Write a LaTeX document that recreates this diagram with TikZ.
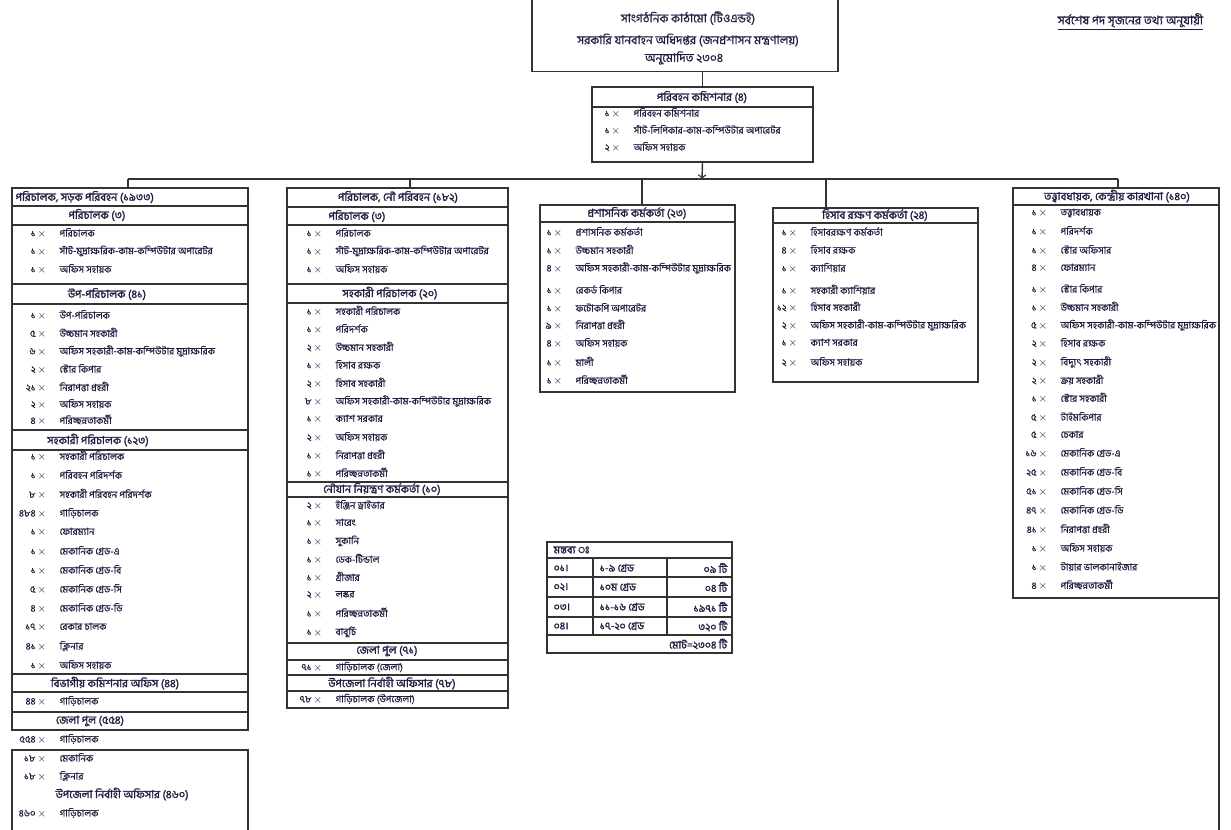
\documentclass[tikz,border=0pt]{standalone}
\usepackage{fontspec}
\newfontfamily\bn[Script=Bengali]{Hind Siliguri}
\newfontfamily\bnm[Script=Bengali, FakeBold=0.6]{Hind Siliguri}
\newfontfamily\bnb[Script=Bengali, FakeBold=1.6]{Hind Siliguri}
\definecolor{ink}{RGB}{30,30,65}
\newcommand{\sm}{\bnm\fontsize{5.5}{6.5}\selectfont}
\newcommand{\hdf}{\bnb\fontsize{6.3}{7.3}\selectfont}
\newcommand{\topf}{\bnm\fontsize{6.8}{7.8}\selectfont}
\newcommand{\cnt}[1]{\makebox[0.64cm][r]{#1\,$\times$}\hspace{0.26cm}}
\tikzset{
  hd/.style={font=\hdf, text=ink, inner sep=0pt},
  itm/.style={font=\sm, text=ink, anchor=west, inner sep=0pt},
  tbl/.style={font=\bnb\fontsize{6}{7}\selectfont, text=ink, inner sep=0pt},
}

\begin{document}
\begin{tikzpicture}[x=0.02cm, y=-0.02cm, line width=0.8pt, color=black!80]
\useasboundingbox (0,0) rectangle (1231,829);
\fill[white] (0,0) rectangle (1231,829);

% top box
\node[draw, minimum width=6.12cm, minimum height=1.54cm, inner sep=0pt] (org) at (685,33) {};
\node[hd, font=\topf] (org1) at (688,18) {সাংগঠনিক কাঠামো (টিওএন্ডই)};
\node[hd, font=\topf] (org2) at (688,40) {সরকারি যানবাহন অধিদপ্তর (জনপ্রশাসন মন্ত্রণালয়)};
\node[hd, font=\topf] (org3) at (684,58) {অনুমোদিত ২৩০৪};
\node[itm, font=\topf] (note) at (1057,22) {\underline{সর্বশেষ পদ সৃজনের তথ্য অনুযায়ী}};

% commissioner
\node[draw, minimum width=4.42cm, minimum height=1.5cm, inner sep=0pt] (comm) at (702.5,124.5) {};
\draw (592,107) -- (813,107);
\node[hd] (khd) at (702,97) {পরিবহন কমিশনার (৪)};
\node[itm] (k1) at (588,113) {\cnt{১}পরিবহন কমিশনার};
\node[itm] (k2) at (588,130) {\cnt{১}সাঁট-লিপিকার-কাম-কম্পিউটার অপারেটর};
\node[itm] (k3) at (588,147) {\cnt{২}অফিস সহায়ক};

\draw (org.south -| comm.north) -- (comm.north);
\coordinate (bus) at (702,179);
\draw[->] (comm.south) -- (bus);
\coordinate (busL) at (128,179);
\coordinate (busR) at (1118,179);
\draw (busL) -- (busR);
\coordinate (topA) at (128,188);
\coordinate (topB) at (410,188);
\coordinate (topC) at (642,205);
\coordinate (topD) at (826,208);
\coordinate (topE) at (1118,188);
\draw (topA |- bus) -- (topA);
\draw (topB |- bus) -- (topB);
\draw (topC |- bus) -- (topC);
\draw (topD |- bus) -- (topD);
\draw (topE |- bus) -- (topE);

% column A
\draw (12,188) rectangle (248,730);
\draw (12,206) -- (248,206);
\draw (12,225) -- (248,225);
\draw (12,284) -- (248,284);
\draw (12,304) -- (248,304);
\draw (12,430) -- (248,430);
\draw (12,450) -- (248,450);
\draw (12,674) -- (248,674);
\draw (12,692) -- (248,692);
\draw (12,712) -- (248,712);
\draw (12,835) -- (12,750) -- (248,750) -- (248,835);
\node[hd, anchor=west] (a0) at (15,197) {পরিচালক, সড়ক পরিবহন (১৯৩৩)};
\node[hd] (a1) at (97,215) {পরিচালক (৩)};
\node[itm] (a11) at (14,233) {\cnt{১}পরিচালক};
\node[itm] (a12) at (14,251) {\cnt{১}সাঁট-মুদ্রাক্ষরিক-কাম-কম্পিউটার অপারেটর};
\node[itm] (a13) at (14,269) {\cnt{১}অফিস সহায়ক};
\node[hd] (a2) at (107,294) {উপ-পরিচালক (৪১)};
\node[itm] (a21) at (14,315) {\cnt{১}উপ-পরিচালক};
\node[itm] (a22) at (14,333) {\cnt{৫}উচ্চমান সহকারী};
\node[itm] (a23) at (14,351) {\cnt{৬}অফিস সহকারী-কাম-কম্পিউটার মুদ্রাক্ষরিক};
\node[itm] (a24) at (14,369) {\cnt{২}স্টোর কিপার};
\node[itm] (a25) at (14,387) {\cnt{২১}নিরাপত্তা প্রহরী};
\node[itm] (a26) at (14,404) {\cnt{২}অফিস সহায়ক};
\node[itm] (a27) at (14,420) {\cnt{৪}পরিচ্ছন্নতাকর্মী};
\node[hd] (a3) at (98,440) {সহকারী পরিচালক (১২৩)};
\node[itm] (a31) at (14,456) {\cnt{১}সহকারী পরিচালক};
\node[itm] (a32) at (14,475) {\cnt{১}পরিবহন পরিদর্শক};
\node[itm] (a33) at (14,494) {\cnt{৮}সহকারী পরিবহন পরিদর্শক};
\node[itm] (a34) at (14,513) {\cnt{৪৮৪}গাড়িচালক};
\node[itm] (a35) at (14,532) {\cnt{১}ফোরম্যান};
\node[itm] (a36) at (14,551) {\cnt{১}মেকানিক গ্রেড-এ};
\node[itm] (a37) at (14,570) {\cnt{১}মেকানিক গ্রেড-বি};
\node[itm] (a38) at (14,589) {\cnt{৫}মেকানিক গ্রেড-সি};
\node[itm] (a39) at (14,608) {\cnt{৪}মেকানিক গ্রেড-ডি};
\node[itm] (a310) at (14,627) {\cnt{১৭}রেকার চালক};
\node[itm] (a311) at (14,646) {\cnt{৪১}ক্লিনার};
\node[itm] (a312) at (14,665) {\cnt{১}অফিস সহায়ক};
\node[hd] (a4) at (115,683) {বিভাগীয় কমিশনার অফিস (৪৪)};
\node[itm] (a41) at (14,701) {\cnt{৪৪}গাড়িচালক};
\node[hd] (a5) at (90,721) {জেলা পুল (৫৫৪)};
\node[itm] (a51) at (14,739) {\cnt{৫৫৪}গাড়িচালক};
\node[itm] (a52) at (14,758) {\cnt{১৮}মেকানিক};
\node[itm] (a53) at (14,776) {\cnt{১৮}ক্লিনার};
\node[hd, anchor=west] (a6) at (55,794) {উপজেলা নির্বাহী অফিসার (৪৬০)};
\node[itm] (a61) at (14,813) {\cnt{৪৬০}গাড়িচালক};

% column B
\draw (287,188) rectangle (508,708);
\draw (287,207) -- (508,207);
\draw (287,225) -- (508,225);
\draw (287,284) -- (508,284);
\draw (287,303) -- (508,303);
\draw (287,482) -- (508,482);
\draw (287,497) -- (508,497);
\draw (287,643) -- (508,643);
\draw (287,660) -- (508,660);
\draw (287,675) -- (508,675);
\draw (287,691) -- (508,691);
\node[hd] (b0) at (398,197) {পরিচালক, নৌ পরিবহন (১৮২)};
\node[hd] (b1) at (357,216) {পরিচালক (৩)};
\node[itm] (b11) at (290,233) {\cnt{১}পরিচালক};
\node[itm] (b12) at (290,251) {\cnt{১}সাঁট-মুদ্রাক্ষরিক-কাম-কম্পিউটার অপারেটর};
\node[itm] (b13) at (290,269) {\cnt{১}অফিস সহায়ক};
\node[hd] (b2) at (390,293) {সহকারী পরিচালক (২০)};
\node[itm] (b21) at (290,311) {\cnt{১}সহকারী পরিচালক};
\node[itm] (b22) at (290,329) {\cnt{১}পরিদর্শক};
\node[itm] (b23) at (290,347) {\cnt{২}উচ্চমান সহকারী};
\node[itm] (b24) at (290,365) {\cnt{১}হিসাব রক্ষক};
\node[itm] (b25) at (290,383) {\cnt{২}হিসাব সহকারী};
\node[itm] (b26) at (290,401) {\cnt{৮}অফিস সহকারী-কাম-কম্পিউটার মুদ্রাক্ষরিক};
\node[itm] (b27) at (290,419) {\cnt{১}ক্যাশ সরকার};
\node[itm] (b28) at (290,437) {\cnt{২}অফিস সহায়ক};
\node[itm] (b29) at (290,455) {\cnt{১}নিরাপত্তা প্রহরী};
\node[itm] (b210) at (290,473) {\cnt{১}পরিচ্ছন্নতাকর্মী};
\node[hd] (b3) at (382,489) {নৌযান নিয়ন্ত্রণ কর্মকর্তা (১০)};
\node[itm] (b31) at (290,505) {\cnt{২}ইঞ্জিন ড্রাইভার};
\node[itm] (b32) at (290,523) {\cnt{১}সারেং};
\node[itm] (b33) at (290,541) {\cnt{১}সুকানি};
\node[itm] (b34) at (290,559) {\cnt{১}ডেক-টিন্ডাল};
\node[itm] (b35) at (290,577) {\cnt{১}গ্রীজার};
\node[itm] (b36) at (290,595) {\cnt{২}লস্কর};
\node[itm] (b37) at (290,613) {\cnt{১}পরিচ্ছন্নতাকর্মী};
\node[itm] (b38) at (290,632) {\cnt{১}বাবুর্চি};
\node[hd] (b4) at (387,651) {জেলা পুল (৭১)};
\node[itm] (b41) at (290,667) {\cnt{৭১}গাড়িচালক (জেলা)};
\node[hd] (b5) at (392,683) {উপজেলা নির্বাহী অফিসার (৭৮)};
\node[itm] (b51) at (290,699) {\cnt{৭৮}গাড়িচালক (উপজেলা)};

% column C
\draw (540,205) rectangle (735,392);
\draw (540,222) -- (735,222);
\node[hd] (p0) at (637,213) {প্রশাসনিক কর্মকর্তা (২৩)};
\node[itm] (p1) at (530,232) {\cnt{১}প্রশাসনিক কর্মকর্তা};
\node[itm] (p2) at (530,250) {\cnt{১}উচ্চমান সহকারী};
\node[itm] (p3) at (530,268) {\cnt{৪}অফিস সহকারী-কাম-কম্পিউটার মুদ্রাক্ষরিক};
\node[itm] (p4) at (530,290) {\cnt{১}রেকর্ড কিপার};
\node[itm] (p5) at (530,308) {\cnt{১}ফটোকপি অপারেটর};
\node[itm] (p6) at (530,325) {\cnt{৯}নিরাপত্তা প্রহরী};
\node[itm] (p7) at (530,343) {\cnt{৪}অফিস সহায়ক};
\node[itm] (p8) at (530,362) {\cnt{১}মালী};
\node[itm] (p9) at (530,380) {\cnt{১}পরিচ্ছন্নতাকর্মী};

% column D
\draw (773,208) rectangle (978,382);
\draw (773,223) -- (978,223);
\node[hd] (h0) at (875,215) {হিসাব রক্ষণ কর্মকর্তা (২৪)};
\node[itm] (h1) at (765,232) {\cnt{১}হিসাবরক্ষণ কর্মকর্তা};
\node[itm] (h2) at (765,250) {\cnt{৪}হিসাব রক্ষক};
\node[itm] (h3) at (765,268) {\cnt{১}ক্যাশিয়ার};
\node[itm] (h4) at (765,290) {\cnt{১}সহকারী ক্যাশিয়ার};
\node[itm] (h5) at (765,307) {\cnt{১২}হিসাব সহকারী};
\node[itm] (h6) at (765,325) {\cnt{২}অফিস সহকারী-কাম-কম্পিউটার মুদ্রাক্ষরিক};
\node[itm] (h7) at (765,343) {\cnt{১}ক্যাশ সরকার};
\node[itm] (h8) at (765,362) {\cnt{২}অফিস সহায়ক};

% column E
\draw (1013,188) rectangle (1219,598);
\draw (1013,205) -- (1219,205);
\draw (1219,598) -- (1219,835);
\node[hd] (t0) at (1117,196) {তত্ত্বাবধায়ক, কেন্দ্রীয় কারখানা (১৪০)};
\node[itm] (t1) at (1015,213) {\cnt{১}তত্ত্বাবধায়ক};
\node[itm] (t2) at (1015,231) {\cnt{১}পরিদর্শক};
\node[itm] (t3) at (1015,250) {\cnt{১}স্টোর অফিসার};
\node[itm] (t4) at (1015,268) {\cnt{৪}ফোরম্যান};
\node[itm] (t5) at (1015,289) {\cnt{১}স্টোর কিপার};
\node[itm] (t6) at (1015,307) {\cnt{১}উচ্চমান সহকারী};
\node[itm] (t7) at (1015,325) {\cnt{৫}অফিস সহকারী-কাম-কম্পিউটার মুদ্রাক্ষরিক};
\node[itm] (t8) at (1015,343) {\cnt{২}হিসাব রক্ষক};
\node[itm] (t9) at (1015,362) {\cnt{২}বিদ্যুৎ সহকারী};
\node[itm] (t10) at (1015,380) {\cnt{২}ক্রয় সহকারী};
\node[itm] (t11) at (1015,398) {\cnt{১}স্টোর সহকারী};
\node[itm] (t12) at (1015,417) {\cnt{৫}টাইমকিপার};
\node[itm] (t13) at (1015,435) {\cnt{৫}চেকার};
\node[itm] (t14) at (1015,453) {\cnt{১৬}মেকানিক গ্রেড-এ};
\node[itm] (t15) at (1015,472) {\cnt{২৫}মেকানিক গ্রেড-বি};
\node[itm] (t16) at (1015,491) {\cnt{৫১}মেকানিক গ্রেড-সি};
\node[itm] (t17) at (1015,510) {\cnt{৪৭}মেকানিক গ্রেড-ডি};
\node[itm] (t18) at (1015,529) {\cnt{৪১}নিরাপত্তা প্রহরী};
\node[itm] (t19) at (1015,548) {\cnt{১}অফিস সহায়ক};
\node[itm] (t20) at (1015,567) {\cnt{১}টায়ার ভালকানাইজার};
\node[itm] (t21) at (1015,585) {\cnt{৪}পরিচ্ছন্নতাকর্মী};

% summary
\draw (547,542) rectangle (732,653);
\draw (547,558) -- (732,558);
\draw (547,577) -- (732,577);
\draw (547,597) -- (732,597);
\draw (547,617) -- (732,617);
\draw (547,635) -- (732,635);
\draw (593,558) -- (593,635);
\draw (667,558) -- (667,635);
\node[tbl, anchor=west] (s0) at (553,550) {মন্তব্য ঃ};
\node[tbl, anchor=west] (s1a) at (553,568) {০১।};
\node[tbl, anchor=west] (s1b) at (599,568) {১-৯ গ্রেড};
\node[tbl, anchor=east] (s1c) at (728,568) {০৯ টি};
\node[tbl, anchor=west] (s2a) at (553,587) {০২।};
\node[tbl, anchor=west] (s2b) at (599,587) {১০ম গ্রেড};
\node[tbl, anchor=east] (s2c) at (728,587) {০৪ টি};
\node[tbl, anchor=west] (s3a) at (553,607) {০৩।};
\node[tbl, anchor=west] (s3b) at (599,607) {১১-১৬ গ্রেড};
\node[tbl, anchor=east] (s3c) at (728,607) {১৯৭১ টি};
\node[tbl, anchor=west] (s4a) at (553,626) {০৪।};
\node[tbl, anchor=west] (s4b) at (599,626) {১৭-২০ গ্রেড};
\node[tbl, anchor=east] (s4c) at (728,626) {৩২০ টি};
\node[tbl, anchor=east] (s5) at (728,644) {মোট=২৩০৪ টি};
\end{tikzpicture}
\end{document}
